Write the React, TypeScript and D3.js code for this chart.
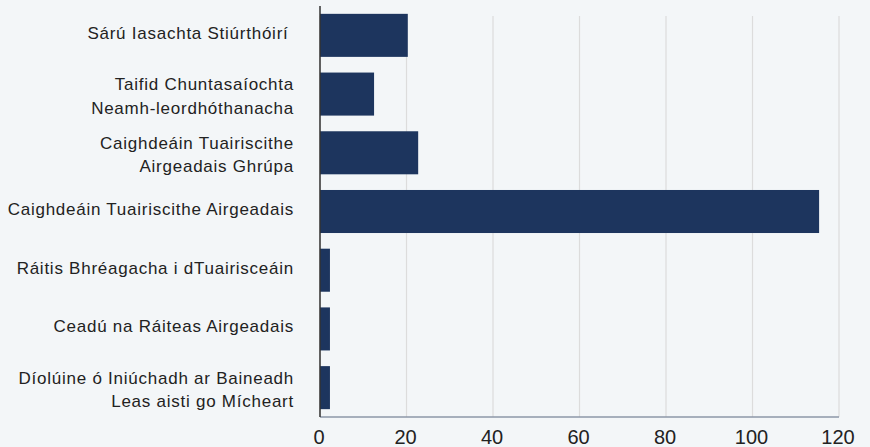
import React from "react";
import * as d3 from "d3";

const categories: string[][] = [
  ["Sárú Iasachta Stiúrthóirí "],
  ["Taifid Chuntasaíochta", "Neamh-leordhóthanacha"],
  ["Caighdeáin Tuairiscithe", "Airgeadais Ghrúpa"],
  ["Caighdeáin Tuairiscithe Airgeadais"],
  ["Ráitis Bhréagacha i dTuairisceáin"],
  ["Ceadú na Ráiteas Airgeadais"],
  ["Díolúine ó Iniúchadh ar Baineadh", "Leas aisti go Mícheart"],
];
const values: number[] = [20.3, 12.5, 22.7, 115.4, 2.3, 2.3, 2.3];
const xTicks: number[] = [0, 20, 40, 60, 80, 100, 120];

const W = 870;
const H = 447;
const left = 320;
const right = 839;
const top = 6;
const bottom = 417;

export default function App() {
  const x = d3.scaleLinear().domain([0, 120]).range([left, right]);
  const idx = categories.map((_, i) => String(i));
  const y = d3
    .scaleBand<string>()
    .domain(idx)
    .range([top, bottom])
    .paddingInner(0.267)
    .paddingOuter(0.1335);
  const font = "'Liberation Sans', Arial, Helvetica, sans-serif";
  return (
    <svg
      width={W}
      height={H}
      style={{ position: "absolute", left: 0, top: 0, background: "#f3f6f8" }}
    >
      <rect x={0} y={0} width={W} height={H} fill="#f3f6f8" />
      {xTicks.map((t) => (
        <line
          key={"g" + t}
          x1={x(t)}
          x2={x(t)}
          y1={16}
          y2={bottom}
          stroke="#dcdcdc"
          strokeWidth={1.2}
        />
      ))}
      {values.map((v, i) => (
        <rect
          key={"b" + i}
          x={x(0)}
          y={y(String(i))!}
          width={x(v) - x(0)}
          height={y.bandwidth()}
          fill="#1d355e"
        />
      ))}
      <line x1={left} x2={right} y1={bottom} y2={bottom} stroke="#8d97a8" strokeWidth={1.5} />
      <line x1={left} x2={left} y1={top} y2={bottom} stroke="#333" strokeWidth={1.5} />
      {xTicks.map((t) => (
        <text
          key={"t" + t}
          x={x(t) - 1}
          y={444}
          textAnchor="middle"
          fontFamily={font}
          fontSize={20}
          fill="#222"
        >
          {t}
        </text>
      ))}
      {categories.map((lines, i) => {
        const c = y(String(i))! + y.bandwidth() / 2;
        const ys = lines.length === 1 ? [c + 3.5] : [c - 4, c + 19.5];
        return lines.map((ln, j) => (
          <text
            key={"l" + i + "_" + j}
            x={294}
            y={ys[j]}
            textAnchor="end"
            fontFamily={font}
            fontSize={17}
            letterSpacing={0.75}
            fill="#222"
            style={{ whiteSpace: "pre" }}
          >
            {ln}
          </text>
        ));
      })}
    </svg>
  );
}
